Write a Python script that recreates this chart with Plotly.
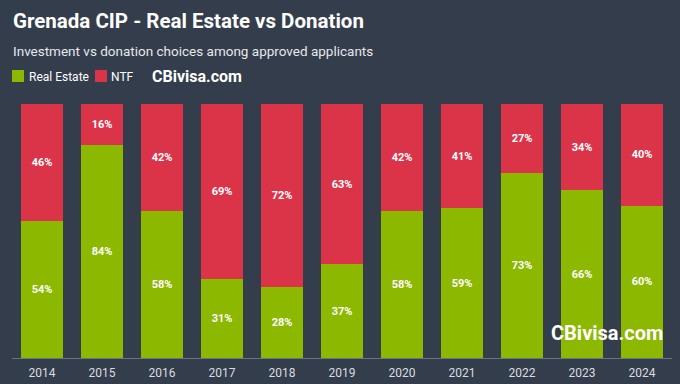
import plotly.graph_objects as go

years = ["2014", "2015", "2016", "2017", "2018", "2019", "2020", "2021", "2022", "2023", "2024"]
real_estate = [54, 84, 58, 31, 28, 37, 58, 59, 73, 66, 60]
ntf = [46, 16, 42, 69, 72, 63, 42, 41, 27, 34, 40]

BG = "#343d4b"
GREEN = "#8cb800"
RED = "#db3449"

W, H = 680, 384
ml, mr, mt, mb = 12, 8, 104, 26
pw = W - ml - mr
ph = H - mt - mb


def px_x(x):
    return (x - ml) / pw


def px_y(y):
    return (H - mb - y) / ph


fig = go.Figure()
fig.add_trace(go.Bar(
    x=years, y=real_estate, name="Real Estate", marker_color=GREEN, marker_line_width=0,
    text=[f"{v}%" for v in real_estate], textposition="inside", insidetextanchor="middle",
    textfont=dict(color="white", size=11, family="Roboto", weight="bold"),
))
fig.add_trace(go.Bar(
    x=years, y=ntf, name="NTF", marker_color=RED, marker_line_width=0,
    text=[f"{v}%" for v in ntf], textposition="inside", insidetextanchor="middle",
    textfont=dict(color="white", size=11, family="Roboto", weight="bold"),
))

shapes = [
    dict(type="rect", xref="paper", yref="paper", x0=px_x(12), x1=px_x(24), y0=px_y(82), y1=px_y(70),
         fillcolor=GREEN, line_width=0),
    dict(type="rect", xref="paper", yref="paper", x0=px_x(95), x1=px_x(107), y0=px_y(82), y1=px_y(70),
         fillcolor=RED, line_width=0),
]

annotations = [
    dict(text="<b>Grenada CIP - Real Estate vs Donation</b>", x=px_x(11), xanchor="left", y=px_y(21),
         font=dict(size=20.5, color="white", family="Roboto")),
    dict(text="Investment vs donation choices among approved applicants", x=px_x(11), xanchor="left",
         y=px_y(51), font=dict(size=13.5, color="#e6e8ec", family="Roboto")),
    dict(text="Real Estate", x=px_x(27), xanchor="left", y=px_y(77),
         font=dict(size=12, color="white", family="Roboto")),
    dict(text="NTF", x=px_x(109), xanchor="left", y=px_y(77),
         font=dict(size=12, color="white", family="Roboto")),
    dict(text="<b>CBivisa.com</b>", x=px_x(150), xanchor="left", y=px_y(76),
         font=dict(size=16, color="white", family="Roboto")),
    dict(text="<b>CBivisa.com</b>", x=px_x(665), xanchor="right", y=px_y(333),
         font=dict(size=20, color="white", family="Roboto")),
]
for a in annotations:
    a.update(xref="paper", yref="paper", yanchor="middle", showarrow=False)

fig.update_layout(
    width=W, height=H, barmode="stack", bargap=0.3,
    paper_bgcolor=BG, plot_bgcolor=BG,
    margin=dict(l=ml, r=mr, t=mt, b=mb, autoexpand=False),
    font=dict(family="Roboto", color="white"),
    uniformtext=dict(minsize=11, mode="show"),
    showlegend=False,
    xaxis=dict(showgrid=False, showline=True, linecolor="#6b7380", linewidth=1,
               tickfont=dict(size=12, color="#d8dce2", family="Roboto"), ticks="",
               ticklabelstandoff=4, fixedrange=True),
    yaxis=dict(range=[0, 100], showgrid=False, showticklabels=False, zeroline=False,
               showline=False, fixedrange=True),
    shapes=shapes,
    annotations=annotations,
)

fig.write_html(
    "out.html",
    config={"displayModeBar": False},
    post_script="document.body.style.margin='0';document.body.style.background='#343d4b';",
)
